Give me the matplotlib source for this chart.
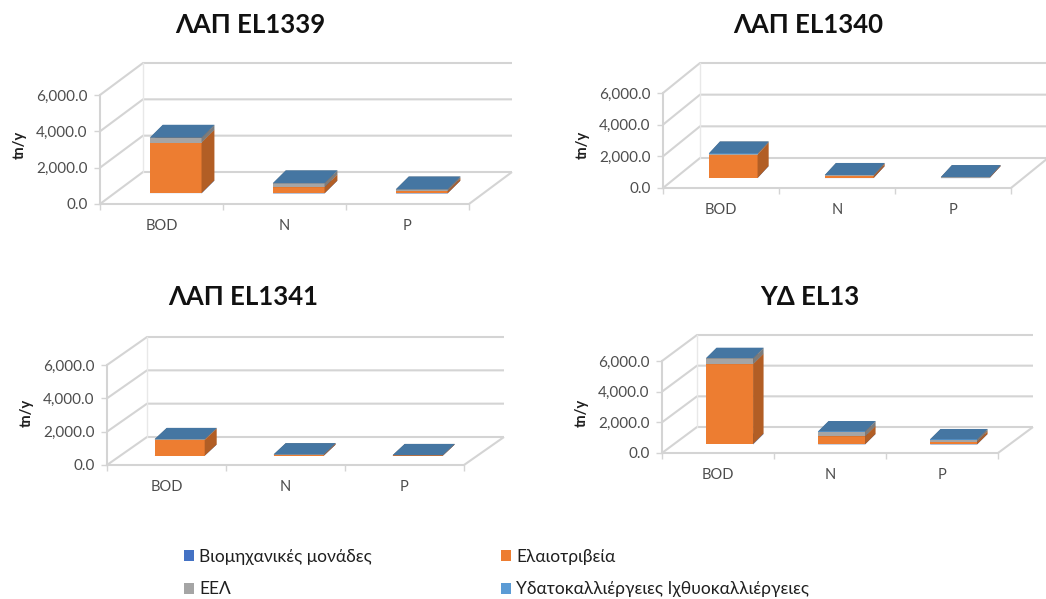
import matplotlib.pyplot as plt
from matplotlib.patches import Polygon, Patch
from matplotlib.ticker import FuncFormatter
from matplotlib.colors import to_rgb

plt.rcParams['font.family'] = ['Lato', 'DejaVu Sans']

W, H = 1046, 599

categories = ['BOD', 'N', 'P']
sources = ['Βιομηχανικές μονάδες', 'Ελαιοτριβεία', 'ΕΕΛ',
           'Υδατοκαλλιέργειες Ιχθυοκαλλιέργειες']
colors = ['#4472C4', '#ED7D31', '#A5A5A5', '#5B9BD5']
yticks = [0, 2000, 4000, 6000]

# tn/y for BOD, N, P
industry_1339 = [20, 5, 2]
olive_1339 = [2780, 340, 130]
wwtp_1339 = [260, 210, 90]
aqua_1339 = [15, 10, 5]

industry_1340 = [10, 3, 1]
olive_1340 = [1480, 130, 35]
wwtp_1340 = [60, 60, 25]
aqua_1340 = [5, 5, 3]

industry_1341 = [5, 2, 1]
olive_1341 = [950, 50, 15]
wwtp_1341 = [40, 30, 20]
aqua_1341 = [5, 3, 2]

industry_el13 = [35, 10, 4]
olive_el13 = [5200, 520, 180]
wwtp_el13 = [370, 300, 135]
aqua_el13 = [25, 18, 10]


def shade(c, f):
    r, g, b = to_rgb(c)
    return (r * f, g * f, b * f)


def draw_panel(box, title, title_xy, stacks, x0, y0, cat_px, px6000, depth_px):
    l, t, r, b = box
    ax = fig.add_axes([l / W, 1 - b / H, (r - l) / W, (b - t) / H])
    vpp = 6000 / px6000
    ax.set_xlim((l - x0) / cat_px, (r - x0) / cat_px)
    ax.set_ylim((y0 - b) * vpp, (y0 - t) * vpp)
    ax.patch.set_alpha(0)

    n = len(categories)
    fdx = depth_px[0] / cat_px
    fdy = depth_px[1] * vpp

    # side wall, back wall and floor
    grid = dict(color='#D4D4D4', lw=1.5, zorder=1, solid_capstyle='butt')
    for v in yticks:
        ax.plot([0, fdx, n + fdx], [v, v + fdy, v + fdy], **grid)
    ax.plot([n, n + fdx], [0, fdy], **grid)
    ax.plot([fdx, fdx], [fdy, yticks[-1] + fdy], color='#E8E8E8', lw=1, zorder=1)

    # stacked bars with front, side and top faces
    bw = 0.42
    ox, oy = 0.33 * fdx, 0.33 * fdy
    bdx, bdy = 0.3 * fdx, 0.4 * fdy
    for i in range(n):
        left = i + 0.5 - bw / 2 + ox
        right = left + bw
        base = oy
        for vals, c in zip(stacks, colors):
            lo, hi = base, base + vals[i]
            front = [(left, lo), (right, lo), (right, hi), (left, hi)]
            side = [(right, lo), (right + bdx, lo + bdy),
                    (right + bdx, hi + bdy), (right, hi)]
            top = [(left, hi), (right, hi),
                   (right + bdx, hi + bdy), (left + bdx, hi + bdy)]
            ax.add_patch(Polygon(front, closed=True, fc=c, ec='none', zorder=3))
            ax.add_patch(Polygon(side, closed=True, fc=shade(c, 0.75), ec='none', zorder=3))
            ax.add_patch(Polygon(top, closed=True, fc=shade(c, 0.76), ec='none', zorder=3))
            base = hi

    for s in ['top', 'right']:
        ax.spines[s].set_visible(False)
    ax.spines['left'].set_position(('data', 0))
    ax.spines['left'].set_bounds(0, yticks[-1])
    ax.spines['bottom'].set_position(('data', 0))
    ax.spines['bottom'].set_bounds(0, n)
    for s in ['left', 'bottom']:
        ax.spines[s].set_color('#D4D4D4')
        ax.spines[s].set_linewidth(1.5)
        ax.spines[s].set_zorder(2)

    ax.set_yticks(yticks)
    ax.yaxis.set_major_formatter(FuncFormatter(lambda v, p: f'{v:,.1f}'))
    ax.tick_params(axis='y', length=4, width=1, color='#D4D4D4',
                   labelsize=11, labelcolor='#4D4D4D', pad=5)
    ax.set_xticks(range(n + 1))
    ax.set_xticklabels([])
    ax.set_xticks([i + 0.5 for i in range(n)], minor=True)
    ax.set_xticklabels(categories, minor=True)
    ax.tick_params(axis='x', which='major', length=4, width=1, color='#D4D4D4')
    ax.tick_params(axis='x', which='minor', length=0, labelsize=10.5,
                   labelcolor='#4D4D4D', pad=11)
    ax.set_ylabel('tn/y', fontsize=10.5, fontweight='bold', color='#1F1F1F', labelpad=7)

    fig.text(title_xy[0] / W, 1 - title_xy[1] / H, title, fontsize=18.5,
             fontweight='bold', color='#111111', ha='center', va='center')
    return ax


fig = plt.figure(figsize=(W / 100, H / 100), dpi=100)

draw_panel((0, 45, 523, 245), 'ΛΑΠ EL1339', (250, 25),
           [industry_1339, olive_1339, wwtp_1339, aqua_1339],
           100, 204, 123, 109, (43, 32))
draw_panel((540, 45, 1046, 245), 'ΛΑΠ EL1340', (808, 25),
           [industry_1340, olive_1340, wwtp_1340, aqua_1340],
           663, 188, 116, 95, (37, 30))
draw_panel((0, 315, 523, 510), 'ΛΑΠ EL1341', (243, 297),
           [industry_1341, olive_1341, wwtp_1341, aqua_1341],
           107, 465, 119, 100, (40, 28))
draw_panel((540, 315, 1046, 510), 'ΥΔ EL13', (810, 297),
           [industry_el13, olive_el13, wwtp_el13, aqua_el13],
           662, 453, 112, 92, (35, 26))

handles = [Patch(fc=c, ec='none') for c in colors]
leg_kw = dict(frameon=False, fontsize=12.5, handlelength=0.6, handleheight=0.6,
              handletextpad=0.3, labelspacing=0.95, borderpad=0, loc='upper left',
              labelcolor='#1F1F1F')
fig.legend([handles[0], handles[2]], [sources[0], sources[2]],
           bbox_to_anchor=(175 / W, 1 - 540 / H), **leg_kw)
fig.legend([handles[1], handles[3]], [sources[1], sources[3]],
           bbox_to_anchor=(492 / W, 1 - 540 / H), **leg_kw)

fig.savefig('out.png', dpi=100)
